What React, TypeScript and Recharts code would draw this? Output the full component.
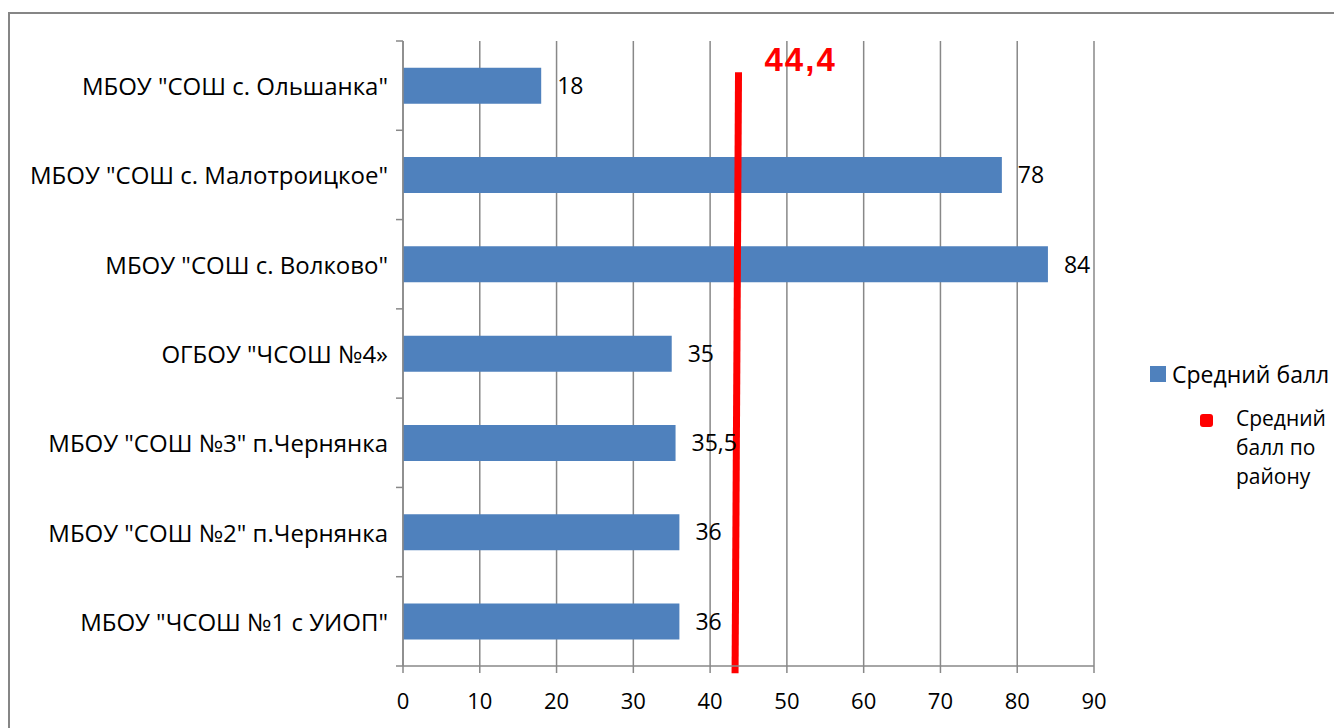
import React from 'react';
import {
  BarChart,
  Bar,
  XAxis,
  YAxis,
  CartesianGrid,
  LabelList,
  ReferenceLine,
  ReferenceDot,
} from 'recharts';

const categories: string[] = [
  'МБОУ "СОШ с. Ольшанка"',
  'МБОУ "СОШ с. Малотроицкое"',
  'МБОУ "СОШ с. Волково"',
  'ОГБОУ "ЧСОШ №4»',
  'МБОУ "СОШ №3" п.Чернянка',
  'МБОУ "СОШ №2" п.Чернянка',
  'МБОУ "ЧСОШ №1 с УИОП"',
];
const scores: number[] = [18, 78, 84, 35, 35.5, 36, 36];
const xTicks: number[] = [0, 10, 20, 30, 40, 50, 60, 70, 80, 90];
const districtAverage = 44.4;
// district line as drawn: x in score units, y on a 0 (plot top) .. 6 (plot bottom) helper axis
const districtLineX: number[] = [43.7, 43.25];
const districtLineY: number[] = [0.3, 6.07];
const helperDomain: number[] = [0, 6];

const seriesName = 'Средний балл';
const districtName = ['Средний', 'балл по', 'району'];

const data = categories.map((name, i) => ({ name, value: scores[i] }));

const FONT = "'Open Sans', 'Noto Sans', sans-serif";
const GRID = '#888888';
const BLUE = '#4F81BD';

const fmt = (v: any) => String(v).replace('.', ',');

const CatTick = (props: any) => {
  const { x, y, payload, index, visibleTicksCount } = props;
  const half = payload && typeof payload.offset === 'number' && payload.offset > 0 ? payload.offset : 625 / 14;
  const last = index === (visibleTicksCount ?? categories.length) - 1;
  return (
    <g>
      <line x1={x - 7} x2={x} y1={y - half} y2={y - half} stroke={GRID} strokeWidth={1.5} />
      {last && <line x1={x - 7} x2={x} y1={y + half} y2={y + half} stroke={GRID} strokeWidth={1.5} />}
      <text
        x={x - 15}
        y={y}
        textAnchor="end"
        dominantBaseline="central"
        fontFamily={FONT}
        fontSize={24}
        fill="#000"
      >
        {payload.value}
      </text>
    </g>
  );
};

const AvgLabel = (props: any) => {
  const vb = props.viewBox || {};
  const x = (vb.x ?? 0) + (vb.width ?? 0) / 2;
  const y = (vb.y ?? 0) + (vb.height ?? 0) / 2;
  return (
    <text
      x={x + 26}
      y={y - 1}
      fill="#FF0000"
      fontFamily="'Liberation Sans', Arial, sans-serif"
      fontWeight="bold"
      fontSize={33}
      letterSpacing={2}
      textAnchor="start"
    >
      {fmt(districtAverage)}
    </text>
  );
};

export default function App() {
  return (
    <div style={{ position: 'absolute', left: 0, top: 0, width: 1334, height: 728, background: '#fff', overflow: 'hidden' }}>
      <div
        style={{
          position: 'absolute',
          left: 8,
          top: 12,
          width: 1326,
          height: 716,
          borderLeft: '2px solid #868686',
          borderTop: '2px solid #868686',
          boxSizing: 'border-box',
        }}
      />
      <div style={{ position: 'absolute', left: 0, top: 0 }}>
        <BarChart
          width={1334}
          height={728}
          data={data}
          layout="vertical"
          margin={{ top: 41, right: 240, bottom: 0, left: 0 }}
          barCategoryGap="30%"
        >
          <CartesianGrid horizontal={false} vertical stroke={GRID} strokeWidth={1.5} />
          <XAxis
            type="number"
            domain={[0, 90]}
            ticks={xTicks}
            interval={0}
            height={62}
            tickSize={7}
            tickMargin={20}
            axisLine={{ stroke: GRID, strokeWidth: 1.5 }}
            tickLine={{ stroke: GRID, strokeWidth: 1.5 }}
            tick={{ fontFamily: FONT, fontSize: 22, fill: '#000' }}
          />
          <YAxis
            type="category"
            dataKey="name"
            width={403}
            tickSize={0}
            tickMargin={0}
            interval={0}
            axisLine={{ stroke: GRID, strokeWidth: 1.5 }}
            tickLine={false}
            tick={<CatTick />}
          />
          <YAxis
            yAxisId="r"
            type="number"
            orientation="right"
            width={0}
            domain={helperDomain}
            tick={false}
            tickLine={false}
            axisLine={false}
            allowDataOverflow
          />
          <Bar dataKey="value" name={seriesName} fill={BLUE} isAnimationActive={false}>
            <LabelList
              dataKey="value"
              position="right"
              offset={16}
              formatter={fmt}
              style={{ fontFamily: FONT, fontSize: 23, fill: '#000' }}
            />
          </Bar>
          <ReferenceLine
            yAxisId="r"
            segment={[
              { x: districtLineX[0], y: districtLineY[0] },
              { x: districtLineX[1], y: districtLineY[1] },
            ]}
            stroke="#FF0000"
            strokeWidth={7}
            ifOverflow="visible"
          />
          <ReferenceDot
            yAxisId="r"
            x={districtLineX[0]}
            y={districtLineY[0]}
            r={0}
            fill="none"
            stroke="none"
            ifOverflow="visible"
            label={<AvgLabel />}
          />
        </BarChart>
      </div>
      <div style={{ position: 'absolute', left: 1150, top: 360, fontFamily: FONT, color: '#000' }}>
        <div style={{ display: 'flex', alignItems: 'center', height: 28 }}>
          <div style={{ width: 16, height: 16, background: BLUE, marginRight: 6 }} />
          <span style={{ fontSize: 23, whiteSpace: 'nowrap' }}>{seriesName}</span>
        </div>
      </div>
      <div style={{ position: 'absolute', left: 1200, top: 414, width: 13, height: 13, background: '#FF0000', borderRadius: 3 }} />
      <div style={{ position: 'absolute', left: 1236, top: 404, fontFamily: FONT, fontSize: 21, lineHeight: '29px', color: '#000' }}>
        {districtName.map((l, i) => (
          <div key={i} style={{ whiteSpace: 'nowrap' }}>{l}</div>
        ))}
      </div>
    </div>
  );
}
